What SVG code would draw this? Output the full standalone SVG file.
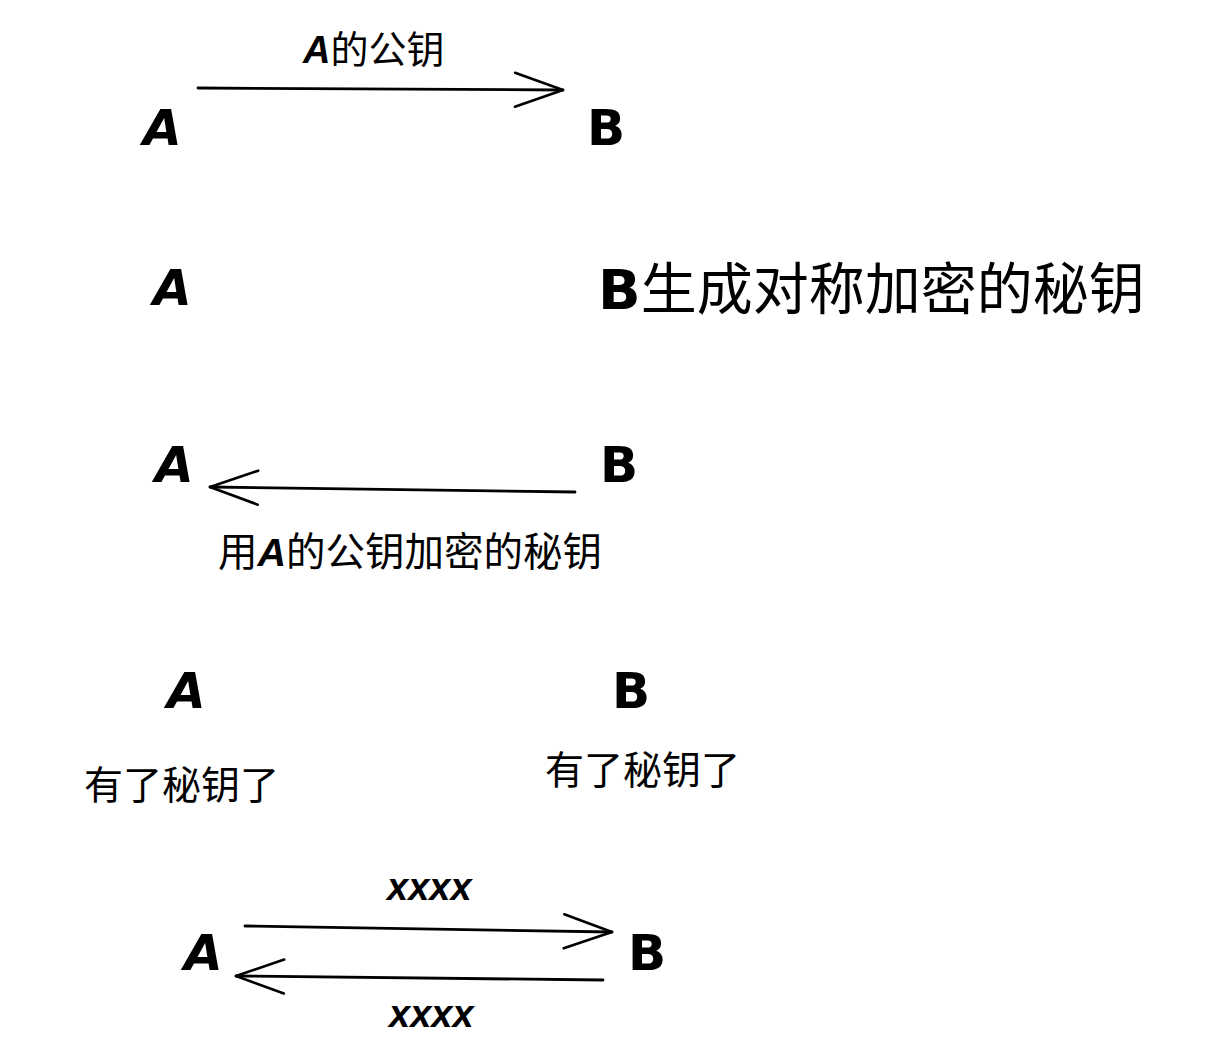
<svg xmlns="http://www.w3.org/2000/svg" width="1230" height="1062" viewBox="0 0 1230 1062">
<style>
.n{font-family:"DejaVu Sans","Liberation Sans",sans-serif;font-weight:bold;fill:#000}
.a{font-style:italic}
.t{font-family:"Noto Sans CJK SC","Liberation Sans",sans-serif;fill:#000}
.x{font-family:"Liberation Sans",sans-serif;font-weight:bold;font-style:italic;fill:#000}
.c{fill:none;stroke:#000;stroke-width:2.8;stroke-linecap:round}
</style>
<defs>
<marker id="ah" markerUnits="userSpaceOnUse" markerWidth="60" markerHeight="44" refX="50" refY="20" orient="auto">
<path d="M2,3 L50,20 L2,37" fill="none" stroke="#000" stroke-width="2.6" stroke-linecap="round" stroke-linejoin="round"/>
</marker>
</defs>
<rect width="1230" height="1062" fill="#fff"/>
<g id="connectors">
<path class="c" d="M198,88 L563,90" marker-end="url(#ah)"/>
<path class="c" d="M575,492 L210,487" marker-end="url(#ah)"/>
<path class="c" d="M245,926 L612,932" marker-end="url(#ah)"/>
<path class="c" d="M603,980 L236,976" marker-end="url(#ah)"/>
</g>
<g id="row1">
<g id="a1"><text class="n a" x="143" y="145" font-size="50">A</text></g>
<g id="b1"><text class="n" x="587" y="145" font-size="50">B</text></g>
<g id="l1"><text class="t" x="303" y="63" font-size="38"><tspan class="x">A</tspan>的公钥</text></g>
</g>
<g id="row2">
<g id="a2"><text class="n a" x="153" y="305" font-size="50">A</text></g>
<g id="l2"><text class="t" x="598" y="309" font-size="56"><tspan class="n">B</tspan>生成对称加密的秘钥</text></g>
</g>
<g id="row3">
<g id="a3"><text class="n a" x="155" y="482" font-size="50">A</text></g>
<g id="b3"><text class="n" x="600" y="482" font-size="50">B</text></g>
<g id="l3"><text class="t" x="218" y="566" font-size="39.5">用<tspan class="x">A</tspan>的公钥加密的秘钥</text></g>
</g>
<g id="row4">
<g id="a4"><text class="n a" x="167" y="708" font-size="50">A</text></g>
<g id="b4"><text class="n" x="612" y="708" font-size="50">B</text></g>
<g id="l4a"><text class="t" x="84" y="799" font-size="39">有了秘钥了</text></g>
<g id="l4b"><text class="t" x="545" y="784" font-size="39">有了秘钥了</text></g>
</g>
<g id="row5">
<g id="a5"><text class="n a" x="184" y="970" font-size="50">A</text></g>
<g id="b5"><text class="n" x="628" y="970" font-size="50">B</text></g>
<g id="l5a"><text class="x" x="387" y="900" font-size="38">xxxx</text></g>
<g id="l5b"><text class="x" x="389" y="1027" font-size="38">xxxx</text></g>
</g>
</svg>
